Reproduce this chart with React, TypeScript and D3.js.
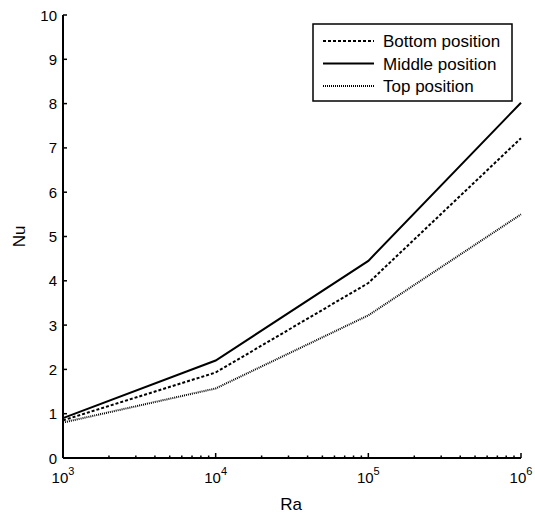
import React from "react";
import * as d3 from "d3";

const raValues = [1e3, 1e4, 1e5, 1e6];
const bottomNu = [0.85, 1.93, 3.95, 7.22];
const middleNu = [0.9, 2.2, 4.45, 8.02];
const topNu = [0.8, 1.57, 3.22, 5.5];
const yTicks = [0, 1, 2, 3, 4, 5, 6, 7, 8, 9, 10];
const xExponents = [3, 4, 5, 6];
const seriesNames = ["Bottom position", "Middle position", "Top position"];

const W = 535, H = 517;
const L = 63, R = 521, T = 15, B = 458;

export default function App() {
  const x = d3.scaleLog().domain([1e3, 1e6]).range([L, R]);
  const y = d3.scaleLinear().domain([0, 10]).range([B, T]);
  const line = d3.line<[number, number]>().x(d => x(d[0])).y(d => y(d[1]));
  const series = [
    { name: seriesNames[0], data: bottomNu, dash: "3,2", width: 2 },
    { name: seriesNames[1], data: middleNu, dash: "none", width: 2 },
    { name: seriesNames[2], data: topNu, dash: "1,1", width: 2 },
  ];
  const minor: number[] = [];
  for (let e = 3; e < 6; e++) for (let k = 2; k <= 9; k++) minor.push(k * Math.pow(10, e));
  const font = "Liberation Sans, Arial, sans-serif";
  return (
    <svg width={W} height={H} style={{ position: "absolute", left: 0, top: 0, background: "#fff" }} fontFamily={font}>
      {series.map(s => (
        <path key={s.name} d={line(raValues.map((r, i) => [r, s.data[i]] as [number, number])) || ""}
          fill="none" stroke="#000" strokeWidth={s.width} strokeDasharray={s.dash} />
      ))}
      {/* axes */}
      <line x1={L} y1={B} x2={R} y2={B} stroke="#000" strokeWidth={2} />
      <line x1={L} y1={B} x2={L} y2={T} stroke="#000" strokeWidth={2} />
      {yTicks.map(t => (
        <g key={t}>
          <line x1={L} x2={L + 4} y1={y(t)} y2={y(t)} stroke="#000" strokeWidth={1.5} />
          <text x={L - 6} y={y(t) + 5.5} fontSize={15} textAnchor="end">{t}</text>
        </g>
      ))}
      {minor.map(m => (
        <line key={m} x1={x(m)} x2={x(m)} y1={B} y2={B - 2.5} stroke="#000" strokeWidth={1.5} />
      ))}
      {xExponents.map(e => (
        <g key={e}>
          <line x1={x(Math.pow(10, e))} x2={x(Math.pow(10, e))} y1={B} y2={B - 5} stroke="#000" strokeWidth={1.5} />
          <text x={x(Math.pow(10, e))} y={483} fontSize={15} textAnchor="middle">
            10<tspan dy={-8} fontSize={11}>{e}</tspan>
          </text>
        </g>
      ))}
      <text x={291} y={510} fontSize={17} textAnchor="middle">Ra</text>
      <text transform={`translate(25,${(T + B) / 2}) rotate(-90)`} fontSize={17} textAnchor="middle">Nu</text>
      {/* legend */}
      <rect x={313} y={24} width={199} height={77} fill="#fff" stroke="#000" strokeWidth={1.5} />
      {series.map((s, i) => (
        <g key={s.name}>
          <line x1={323} x2={374} y1={41 + i * 22.5} y2={41 + i * 22.5} stroke="#000" strokeWidth={s.width} strokeDasharray={s.dash} />
          <text x={383} y={47 + i * 22.5} fontSize={17}>{s.name}</text>
        </g>
      ))}
    </svg>
  );
}
